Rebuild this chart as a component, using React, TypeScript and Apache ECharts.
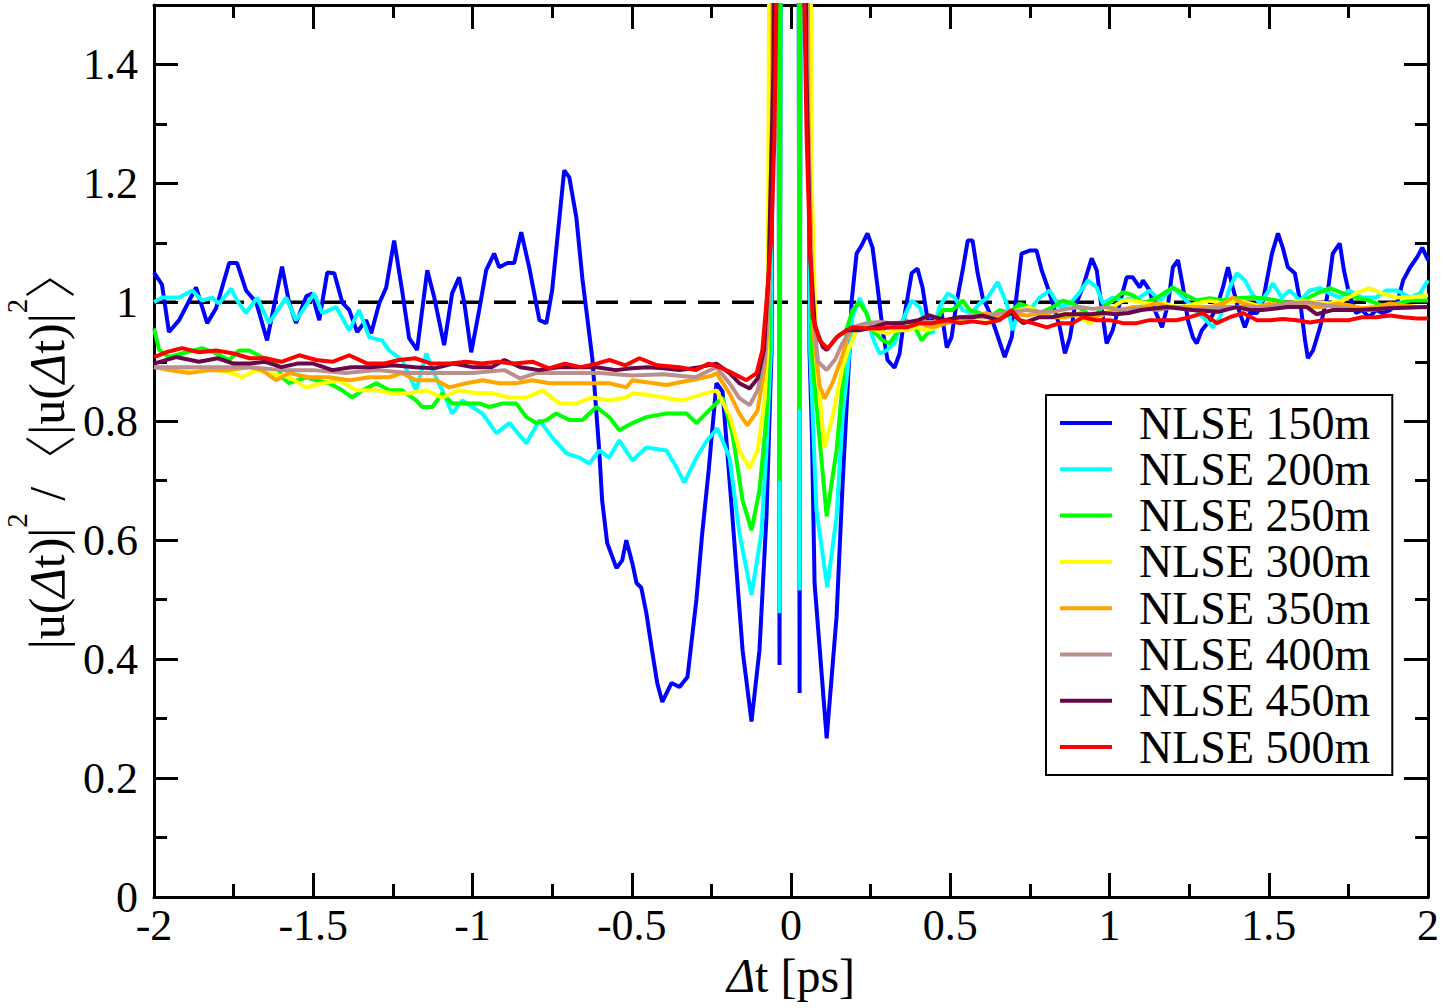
import React, { useEffect, useRef } from "react";
import * as echarts from "echarts";

// ---------------- data ----------------
const seriesNames = [
  "NLSE 150m",
  "NLSE 200m",
  "NLSE 250m",
  "NLSE 300m",
  "NLSE 350m",
  "NLSE 400m",
  "NLSE 450m",
  "NLSE 500m",
];

const xRange = [-2, 2];
const yRange = [0, 1.5];
const xMajor = 0.5;
const xMinor = 0.25;
const yMajor = 0.2;
const yMinor = 0.1;
const referenceLevel = 1;

const xTitle = "{i|Δ}t [ps]";
const yTitle = "{m||u(}{i|Δ}{m|t)|}{s|2}{m| /}{b|〈}{m||u(}{i|Δ}{m|t)|}{s|2}{b|〉}";

const nlse150 = [
  [-2.0, 1.05], [-1.975, 1.03], [-1.953, 0.95], [-1.921, 0.97], [-1.868, 1.025], [-1.833, 0.965],
  [-1.805, 0.99], [-1.764, 1.066], [-1.739, 1.066], [-1.711, 1.02], [-1.679, 1.0], [-1.645, 0.936],
  [-1.617, 1.01], [-1.598, 1.06], [-1.576, 1.0], [-1.554, 0.965], [-1.522, 1.01], [-1.504, 1.015],
  [-1.481, 0.97], [-1.456, 1.05], [-1.434, 1.049], [-1.409, 1.0], [-1.387, 0.987], [-1.362, 0.95],
  [-1.334, 0.97], [-1.318, 0.948], [-1.293, 0.998], [-1.271, 1.025], [-1.246, 1.104], [-1.221, 1.02],
  [-1.199, 0.94], [-1.174, 0.92], [-1.142, 1.054], [-1.12, 1.008], [-1.089, 0.928], [-1.064, 1.015],
  [-1.042, 1.042], [-1.026, 1.0], [-1.004, 0.916], [-0.979, 0.987], [-0.957, 1.054], [-0.932, 1.082],
  [-0.916, 1.059], [-0.89, 1.066], [-0.869, 1.066], [-0.847, 1.118], [-0.822, 1.059], [-0.79, 0.97],
  [-0.768, 0.965], [-0.75, 1.02], [-0.712, 1.222], [-0.696, 1.21], [-0.674, 1.143], [-0.655, 1.04],
  [-0.624, 0.907], [-0.602, 0.75], [-0.593, 0.667], [-0.577, 0.595], [-0.548, 0.553], [-0.53, 0.566],
  [-0.517, 0.6], [-0.498, 0.561], [-0.485, 0.528], [-0.47, 0.52], [-0.454, 0.477], [-0.435, 0.41],
  [-0.42, 0.36], [-0.404, 0.328], [-0.375, 0.36], [-0.35, 0.353], [-0.325, 0.37], [-0.297, 0.5],
  [-0.279, 0.61], [-0.258, 0.72], [-0.234, 0.864], [-0.215, 0.85], [-0.184, 0.64], [-0.152, 0.415],
  [-0.124, 0.295], [-0.099, 0.415], [-0.077, 0.64], [-0.061, 0.92], [-0.052, 2.5], [-0.042, 2.5],
  [-0.036, 0.39], [-0.03, 2.5], [0, 5], [0.022, 2.5], [0.027, 0.343], [0.032, 2.5], [0.052, 2.5],
  [0.058, 0.92], [0.066, 0.77], [0.074, 0.528], [0.112, 0.267], [0.143, 0.471], [0.162, 0.695],
  [0.184, 0.92], [0.19, 1.0], [0.206, 1.082], [0.222, 1.096], [0.24, 1.116], [0.256, 1.092],
  [0.272, 1.025], [0.288, 0.953], [0.303, 0.903], [0.325, 0.89], [0.341, 0.914], [0.357, 0.98],
  [0.379, 1.049], [0.397, 1.057], [0.413, 1.025], [0.429, 0.97], [0.451, 0.97], [0.473, 0.982],
  [0.489, 0.924], [0.504, 0.941], [0.52, 1.0], [0.539, 1.054], [0.555, 1.104], [0.57, 1.104],
  [0.586, 1.049], [0.602, 1.008], [0.624, 0.982], [0.646, 0.948], [0.671, 0.908], [0.693, 0.941],
  [0.709, 1.015], [0.724, 1.082], [0.749, 1.087], [0.771, 1.087], [0.787, 1.054], [0.806, 1.025],
  [0.822, 0.998], [0.844, 0.958], [0.86, 0.914], [0.876, 0.941], [0.891, 0.992], [0.916, 1.025],
  [0.944, 1.074], [0.96, 1.054], [0.976, 0.987], [0.991, 0.931], [1.01, 0.953], [1.032, 0.998],
  [1.054, 1.042], [1.073, 1.042], [1.095, 1.025], [1.105, 1.037], [1.126, 1.02], [1.142, 0.987],
  [1.165, 0.958], [1.184, 0.998], [1.199, 1.059], [1.215, 1.071], [1.231, 1.025], [1.246, 0.97],
  [1.262, 0.941], [1.274, 0.931], [1.29, 0.953], [1.315, 0.97], [1.337, 0.992], [1.356, 1.025],
  [1.372, 1.059], [1.387, 1.025], [1.403, 0.992], [1.425, 0.958], [1.441, 0.982], [1.463, 0.982],
  [1.482, 1.003], [1.51, 1.082], [1.529, 1.116], [1.544, 1.092], [1.56, 1.059], [1.582, 1.049],
  [1.598, 1.003], [1.614, 0.936], [1.623, 0.906], [1.639, 0.919], [1.661, 0.958], [1.683, 1.008],
  [1.701, 1.082], [1.723, 1.099], [1.736, 1.054], [1.752, 1.015], [1.774, 0.982], [1.793, 0.987],
  [1.815, 0.975], [1.837, 0.987], [1.856, 0.982], [1.881, 0.987], [1.903, 0.998], [1.922, 1.037],
  [1.944, 1.059], [1.966, 1.076], [1.982, 1.092], [2.0, 1.071],
];

const nlse200 = [
  [-2.0, 1.0], [-1.975, 1.008], [-1.921, 1.008], [-1.88, 1.02], [-1.849, 1.003], [-1.818, 1.008],
  [-1.796, 0.998], [-1.758, 1.023], [-1.739, 1.003], [-1.711, 0.982], [-1.676, 1.008], [-1.639, 0.965],
  [-1.585, 1.008], [-1.554, 0.97], [-1.497, 1.015], [-1.472, 0.982], [-1.428, 0.992], [-1.387, 0.953],
  [-1.356, 0.987], [-1.324, 0.941], [-1.284, 0.936], [-1.262, 0.919], [-1.221, 0.903], [-1.177, 0.852],
  [-1.145, 0.914], [-1.126, 0.886], [-1.095, 0.852], [-1.064, 0.813], [-1.032, 0.835], [-1.001, 0.824],
  [-0.969, 0.813], [-0.925, 0.78], [-0.884, 0.797], [-0.831, 0.763], [-0.79, 0.802], [-0.75, 0.773],
  [-0.705, 0.746], [-0.665, 0.739], [-0.633, 0.729], [-0.602, 0.751], [-0.571, 0.739], [-0.539, 0.768],
  [-0.498, 0.734], [-0.454, 0.756], [-0.391, 0.751], [-0.36, 0.723], [-0.335, 0.697], [-0.297, 0.739],
  [-0.263, 0.768], [-0.231, 0.788], [-0.193, 0.739], [-0.162, 0.612], [-0.124, 0.508], [-0.093, 0.612],
  [-0.077, 0.751], [-0.063, 0.92], [-0.053, 2.5], [-0.042, 2.5], [-0.036, 0.477], [-0.03, 2.5],
  [0, 5], [0.022, 2.5], [0.027, 0.516], [0.032, 2.5], [0.05, 2.5], [0.06, 0.92], [0.08, 0.65],
  [0.114, 0.521], [0.143, 0.639], [0.162, 0.807], [0.184, 0.92], [0.193, 0.975], [0.215, 1.007],
  [0.237, 0.982], [0.256, 0.941], [0.278, 0.914], [0.3, 0.919], [0.325, 0.931], [0.35, 0.97],
  [0.379, 1.003], [0.404, 0.992], [0.429, 0.953], [0.445, 0.948], [0.466, 0.992], [0.492, 1.015],
  [0.514, 1.008], [0.539, 0.987], [0.567, 0.982], [0.592, 0.998], [0.617, 1.008], [0.649, 1.034],
  [0.677, 0.998], [0.696, 0.953], [0.718, 0.992], [0.749, 0.987], [0.781, 1.008], [0.812, 1.02],
  [0.844, 0.992], [0.876, 0.998], [0.907, 1.017], [0.932, 1.037], [0.96, 1.025], [0.979, 0.998],
  [1.01, 1.008], [1.042, 1.003], [1.073, 1.008], [1.095, 1.008], [1.126, 1.02], [1.158, 1.003],
  [1.199, 1.025], [1.231, 1.008], [1.262, 0.992], [1.293, 0.975], [1.325, 0.958], [1.347, 0.975],
  [1.378, 1.025], [1.4, 1.049], [1.425, 1.037], [1.447, 1.015], [1.472, 0.998], [1.494, 1.015],
  [1.513, 1.032], [1.541, 1.008], [1.566, 1.02], [1.598, 1.003], [1.629, 1.02], [1.661, 1.024],
  [1.692, 1.015], [1.723, 1.008], [1.752, 1.02], [1.793, 1.008], [1.837, 1.008], [1.869, 1.02],
  [1.903, 1.02], [1.944, 1.008], [1.975, 1.015], [2.0, 1.037],
];

const nlse250 = [
  [-2.0, 0.956], [-1.984, 0.92], [-1.953, 0.908], [-1.912, 0.914], [-1.849, 0.923], [-1.805, 0.914],
  [-1.764, 0.903], [-1.733, 0.919], [-1.701, 0.919], [-1.661, 0.908], [-1.617, 0.897], [-1.598, 0.874],
  [-1.576, 0.864], [-1.522, 0.874], [-1.491, 0.869], [-1.45, 0.864], [-1.409, 0.852], [-1.378, 0.84],
  [-1.346, 0.852], [-1.302, 0.864], [-1.262, 0.852], [-1.221, 0.852], [-1.177, 0.835], [-1.158, 0.824],
  [-1.126, 0.824], [-1.095, 0.847], [-1.064, 0.83], [-1.019, 0.83], [-0.979, 0.83], [-0.947, 0.824],
  [-0.906, 0.83], [-0.863, 0.83], [-0.831, 0.807], [-0.8, 0.797], [-0.768, 0.802], [-0.737, 0.813],
  [-0.696, 0.802], [-0.655, 0.802], [-0.611, 0.824], [-0.571, 0.807], [-0.539, 0.785], [-0.498, 0.797],
  [-0.454, 0.807], [-0.391, 0.813], [-0.328, 0.813], [-0.297, 0.797], [-0.258, 0.818], [-0.225, 0.835],
  [-0.215, 0.84], [-0.184, 0.78], [-0.152, 0.667], [-0.124, 0.617], [-0.099, 0.684], [-0.077, 0.807],
  [-0.068, 0.92], [-0.056, 2.5], [-0.042, 2.5], [-0.036, 0.7], [-0.03, 2.5], [0, 5], [0.022, 2.5],
  [0.027, 0.82], [0.032, 2.5], [0.05, 2.5], [0.064, 0.92], [0.112, 0.64], [0.143, 0.751],
  [0.162, 0.864], [0.174, 0.953], [0.193, 0.987], [0.215, 1.0], [0.237, 0.982], [0.256, 0.953],
  [0.288, 0.936], [0.309, 0.931], [0.332, 0.948], [0.363, 0.97], [0.394, 0.953], [0.41, 0.936],
  [0.429, 0.948], [0.457, 0.97], [0.476, 0.987], [0.507, 0.987], [0.539, 1.003], [0.561, 0.987],
  [0.592, 0.982], [0.624, 0.975], [0.655, 0.987], [0.686, 0.982], [0.718, 0.998], [0.749, 0.992],
  [0.781, 0.982], [0.822, 0.992], [0.853, 1.003], [0.885, 0.998], [0.916, 0.987], [0.948, 0.975],
  [0.979, 0.992], [1.01, 1.003], [1.042, 1.017], [1.073, 1.012], [1.105, 0.998], [1.149, 1.008],
  [1.199, 1.025], [1.231, 1.015], [1.274, 1.003], [1.315, 1.007], [1.356, 1.003], [1.4, 1.007],
  [1.441, 1.008], [1.482, 1.007], [1.526, 1.003], [1.566, 0.998], [1.607, 1.003], [1.651, 1.015],
  [1.692, 1.024], [1.733, 1.015], [1.774, 1.008], [1.815, 1.003], [1.856, 0.995], [1.903, 0.998],
  [1.944, 1.003], [2.0, 1.003],
];

const nlse300 = [
  [-2.0, 0.891], [-1.962, 0.891], [-1.912, 0.886], [-1.859, 0.891], [-1.805, 0.886], [-1.755, 0.881],
  [-1.723, 0.874], [-1.679, 0.886], [-1.639, 0.881], [-1.576, 0.874], [-1.522, 0.857], [-1.472, 0.864],
  [-1.419, 0.869], [-1.365, 0.852], [-1.302, 0.852], [-1.252, 0.847], [-1.199, 0.847], [-1.145, 0.852],
  [-1.095, 0.84], [-1.042, 0.852], [-0.988, 0.847], [-0.938, 0.847], [-0.884, 0.84], [-0.831, 0.84],
  [-0.781, 0.852], [-0.727, 0.83], [-0.674, 0.83], [-0.624, 0.84], [-0.571, 0.835], [-0.517, 0.84],
  [-0.498, 0.847], [-0.445, 0.844], [-0.391, 0.839], [-0.341, 0.835], [-0.288, 0.844], [-0.234, 0.852],
  [-0.193, 0.81], [-0.162, 0.751], [-0.13, 0.721], [-0.105, 0.751], [-0.083, 0.835], [-0.074, 0.92],
  [-0.06, 2.5], [0, 5], [0.055, 2.5], [0.065, 1.2], [0.08, 0.9], [0.105, 0.755], [0.13, 0.807],
  [0.162, 0.891], [0.178, 0.919], [0.193, 0.936], [0.206, 0.953], [0.237, 0.958], [0.269, 0.953],
  [0.3, 0.948], [0.332, 0.953], [0.363, 0.953], [0.394, 0.958], [0.426, 0.953], [0.457, 0.958],
  [0.489, 0.97], [0.52, 0.97], [0.551, 0.975], [0.592, 0.975], [0.633, 0.97], [0.677, 0.982],
  [0.718, 0.987], [0.749, 0.992], [0.781, 0.982], [0.822, 0.975], [0.866, 0.982], [0.907, 0.975],
  [0.938, 0.965], [0.969, 0.975], [1.01, 0.992], [1.042, 1.003], [1.073, 1.003], [1.117, 0.998],
  [1.168, 0.998], [1.221, 0.992], [1.274, 0.998], [1.315, 1.003], [1.356, 0.998], [1.4, 1.003],
  [1.441, 0.998], [1.482, 0.992], [1.526, 0.992], [1.566, 0.998], [1.607, 1.003], [1.651, 1.0],
  [1.692, 0.998], [1.733, 1.003], [1.774, 1.015], [1.815, 1.024], [1.856, 1.015], [1.903, 1.008],
  [1.944, 1.008], [2.0, 1.012],
];

const nlse350 = [
  [-2.0, 0.891], [-1.953, 0.886], [-1.89, 0.881], [-1.827, 0.886], [-1.764, 0.886], [-1.701, 0.891],
  [-1.661, 0.886], [-1.617, 0.869], [-1.576, 0.881], [-1.513, 0.874], [-1.45, 0.874], [-1.387, 0.869],
  [-1.324, 0.874], [-1.262, 0.874], [-1.221, 0.881], [-1.177, 0.869], [-1.114, 0.869], [-1.073, 0.857],
  [-1.019, 0.864], [-0.969, 0.869], [-0.916, 0.864], [-0.863, 0.864], [-0.812, 0.869], [-0.759, 0.864],
  [-0.696, 0.864], [-0.633, 0.864], [-0.571, 0.864], [-0.517, 0.857], [-0.498, 0.869], [-0.391, 0.861],
  [-0.288, 0.872], [-0.247, 0.877], [-0.234, 0.881], [-0.193, 0.847], [-0.162, 0.813], [-0.137, 0.793],
  [-0.105, 0.818], [-0.083, 0.891], [-0.074, 0.95], [-0.06, 1.3], [-0.05, 2.5], [0, 5], [0.045, 2.5],
  [0.055, 1.3], [0.07, 0.95], [0.09, 0.86], [0.105, 0.838], [0.13, 0.864], [0.162, 0.911],
  [0.174, 0.936], [0.193, 0.958], [0.237, 0.958], [0.278, 0.958], [0.319, 0.958], [0.363, 0.958],
  [0.404, 0.965], [0.445, 0.958], [0.489, 0.965], [0.529, 0.97], [0.57, 0.975], [0.614, 0.982],
  [0.655, 0.975], [0.696, 0.982], [0.74, 0.978], [0.781, 0.982], [0.822, 0.975], [0.866, 0.975],
  [0.907, 0.982], [0.948, 0.975], [0.991, 0.982], [1.032, 0.987], [1.073, 0.992], [1.105, 0.992],
  [1.149, 0.998], [1.19, 0.992], [1.231, 0.992], [1.274, 0.992], [1.315, 0.992], [1.356, 0.998],
  [1.387, 1.008], [1.419, 0.998], [1.463, 0.992], [1.504, 0.998], [1.544, 0.995], [1.588, 0.998],
  [1.629, 0.992], [1.67, 0.992], [1.714, 0.998], [1.752, 0.995], [1.793, 0.99], [1.837, 0.992],
  [1.881, 0.998], [1.922, 0.995], [1.966, 0.992], [2.0, 0.992],
];

const nlse400 = [
  [-2.0, 0.891], [-1.9, 0.891], [-1.8, 0.891], [-1.7, 0.891], [-1.6, 0.886], [-1.5, 0.886],
  [-1.4, 0.881], [-1.3, 0.886], [-1.2, 0.881], [-1.1, 0.881], [-1.0, 0.881], [-0.9, 0.886],
  [-0.85, 0.872], [-0.8, 0.881], [-0.7, 0.881], [-0.6, 0.881], [-0.5, 0.877], [-0.4, 0.879],
  [-0.3, 0.874], [-0.234, 0.891], [-0.193, 0.864], [-0.162, 0.839], [-0.13, 0.827], [-0.105, 0.852],
  [-0.083, 0.903], [-0.07, 1.0], [-0.055, 1.4], [-0.048, 2.5], [0, 5], [0.04, 2.5], [0.05, 1.4],
  [0.065, 1.0], [0.085, 0.9], [0.112, 0.886], [0.14, 0.905], [0.16, 0.93], [0.193, 0.958],
  [0.237, 0.965], [0.278, 0.967], [0.319, 0.965], [0.363, 0.967], [0.404, 0.967], [0.445, 0.967],
  [0.489, 0.967], [0.529, 0.975], [0.57, 0.977], [0.614, 0.975], [0.655, 0.982], [0.696, 0.984],
  [0.74, 0.987], [0.781, 0.984], [0.822, 0.984], [0.866, 0.989], [0.907, 0.992], [0.948, 0.989],
  [0.991, 0.992], [1.032, 0.987], [1.1, 0.99], [1.15, 0.987], [1.2, 0.992], [1.26, 0.987],
  [1.32, 0.99], [1.38, 0.992], [1.44, 0.992], [1.5, 0.992], [1.56, 0.998], [1.62, 1.0],
  [1.68, 0.995], [1.74, 0.99], [1.82, 0.987], [1.9, 0.992], [2.0, 0.992],
];

const nlse450 = [
  [-2.0, 0.897], [-1.931, 0.908], [-1.859, 0.9], [-1.8, 0.906], [-1.75, 0.897], [-1.7, 0.897],
  [-1.65, 0.9], [-1.6, 0.891], [-1.55, 0.897], [-1.5, 0.897], [-1.44, 0.886], [-1.38, 0.891],
  [-1.32, 0.891], [-1.25, 0.894], [-1.18, 0.891], [-1.12, 0.889], [-1.06, 0.897], [-1.0, 0.891],
  [-0.94, 0.891], [-0.9, 0.903], [-0.85, 0.891], [-0.79, 0.886], [-0.73, 0.891], [-0.67, 0.891],
  [-0.61, 0.891], [-0.55, 0.886], [-0.5, 0.889], [-0.45, 0.891], [-0.4, 0.889], [-0.35, 0.886],
  [-0.288, 0.891], [-0.234, 0.897], [-0.193, 0.881], [-0.162, 0.864], [-0.13, 0.855], [-0.105, 0.872],
  [-0.085, 0.92], [-0.07, 1.05], [-0.055, 1.4], [-0.047, 2.5], [0, 5], [0.04, 2.5], [0.048, 1.4],
  [0.06, 1.08], [0.075, 0.96], [0.1, 0.925], [0.112, 0.92], [0.143, 0.941], [0.174, 0.953],
  [0.215, 0.953], [0.256, 0.958], [0.3, 0.965], [0.35, 0.965], [0.4, 0.97], [0.435, 0.978],
  [0.48, 0.97], [0.53, 0.975], [0.57, 0.975], [0.6, 0.978], [0.65, 0.97], [0.69, 0.982],
  [0.73, 0.965], [0.78, 0.975], [0.82, 0.975], [0.86, 0.98], [0.9, 0.98], [0.94, 0.98],
  [0.98, 0.982], [1.02, 0.98], [1.06, 0.982], [1.1, 0.987], [1.18, 0.992], [1.26, 0.987],
  [1.34, 0.984], [1.4, 0.992], [1.44, 0.987], [1.48, 0.987], [1.56, 0.992], [1.62, 0.992],
  [1.65, 0.98], [1.7, 0.987], [1.78, 0.987], [1.88, 0.99], [2.0, 0.992],
];

const nlse500 = [
  [-2.0, 0.908], [-1.962, 0.916], [-1.912, 0.923], [-1.859, 0.916], [-1.805, 0.919], [-1.75, 0.914],
  [-1.7, 0.906], [-1.65, 0.906], [-1.6, 0.9], [-1.544, 0.911], [-1.49, 0.903], [-1.44, 0.9],
  [-1.387, 0.911], [-1.33, 0.897], [-1.28, 0.897], [-1.23, 0.903], [-1.18, 0.906], [-1.13, 0.897],
  [-1.07, 0.897], [-1.02, 0.9], [-0.97, 0.897], [-0.92, 0.9], [-0.87, 0.897], [-0.81, 0.9],
  [-0.76, 0.889], [-0.71, 0.897], [-0.66, 0.891], [-0.61, 0.897], [-0.57, 0.903], [-0.52, 0.894],
  [-0.476, 0.906], [-0.42, 0.894], [-0.35, 0.891], [-0.3, 0.886], [-0.258, 0.897], [-0.215, 0.889],
  [-0.184, 0.881], [-0.14, 0.869], [-0.108, 0.881], [-0.09, 0.919], [-0.077, 1.0], [-0.061, 1.113],
  [-0.052, 1.28], [-0.046, 1.5], [-0.04, 2.5], [0, 5], [0.036, 2.5], [0.042, 1.5], [0.049, 1.28],
  [0.058, 1.116], [0.068, 0.975], [0.09, 0.936], [0.115, 0.922], [0.143, 0.941], [0.152, 0.945],
  [0.193, 0.958], [0.237, 0.956], [0.278, 0.956], [0.319, 0.958], [0.363, 0.958], [0.404, 0.965],
  [0.445, 0.965], [0.489, 0.97], [0.529, 0.965], [0.57, 0.968], [0.614, 0.965], [0.655, 0.97],
  [0.693, 0.987], [0.718, 0.97], [0.759, 0.965], [0.803, 0.958], [0.844, 0.965], [0.885, 0.965],
  [0.916, 0.975], [0.96, 0.97], [1.001, 0.97], [1.042, 0.965], [1.085, 0.965], [1.126, 0.97],
  [1.168, 0.97], [1.21, 0.97], [1.252, 0.975], [1.293, 0.982], [1.337, 0.965], [1.378, 0.975],
  [1.419, 0.982], [1.463, 0.97], [1.504, 0.97], [1.544, 0.972], [1.588, 0.97], [1.629, 0.966],
  [1.67, 0.97], [1.714, 0.97], [1.752, 0.97], [1.793, 0.975], [1.837, 0.975], [1.881, 0.978],
  [1.922, 0.975], [1.966, 0.973], [2.0, 0.973],
];

const seriesData = [nlse150, nlse200, nlse250, nlse300, nlse350, nlse400, nlse450, nlse500];

// ---------------- styles ----------------
const seriesColors = ["#0000ff", "#00ffff", "#00ff00", "#ffff00", "#ffa500", "#bc8f8f", "#670748", "#ff0000"];
const FONT = '"Liberation Serif", "Times New Roman", Times, serif';
const CJK = '"Noto Sans CJK SC", "Noto Sans CJK JP", sans-serif';
const BLACK = "#000";

function makeXAxis(position: "bottom" | "top", major: boolean, withLabels: boolean) {
  return {
    type: "value",
    gridIndex: 0,
    position,
    min: xRange[0],
    max: xRange[1],
    interval: major ? xMajor : xMinor,
    axisLine: { show: major, onZero: false, lineStyle: { color: BLACK, width: 3 } },
    axisTick: { show: true, inside: true, length: major ? 24 : 13, lineStyle: { color: BLACK, width: 3 } },
    axisLabel: withLabels
      ? { show: true, fontFamily: FONT, fontSize: 44, color: BLACK, margin: 6 }
      : { show: false },
    splitLine: { show: false },
    minorTick: { show: false },
  };
}

function makeYAxis(position: "left" | "right", major: boolean, withLabels: boolean) {
  return {
    type: "value",
    gridIndex: 0,
    position,
    min: yRange[0],
    max: yRange[1],
    interval: major ? yMajor : yMinor,
    axisLine: { show: major, onZero: false, lineStyle: { color: BLACK, width: 3 } },
    axisTick: { show: true, inside: true, length: major ? 24 : 13, lineStyle: { color: BLACK, width: 3 } },
    axisLabel: withLabels
      ? { show: true, fontFamily: FONT, fontSize: 44, color: BLACK, margin: 16, showMaxLabel: false }
      : { show: false },
    splitLine: { show: false },
    minorTick: { show: false },
  };
}

export default function App() {
  const ref = useRef<HTMLDivElement>(null);

  useEffect(() => {
    if (!ref.current) return;
    const chart = echarts.init(ref.current, null, { renderer: "svg" });

    const xAxes: any[] = [
      {
        ...makeXAxis("bottom", true, true),
        name: xTitle,
        nameLocation: "middle",
        nameGap: 54,
        nameTextStyle: {
          fontFamily: FONT,
          fontSize: 48,
          color: BLACK,
          rich: { i: { fontFamily: FONT, fontSize: 48, fontStyle: "italic", color: BLACK } },
        },
      },
      makeXAxis("bottom", false, false),
      makeXAxis("top", true, false),
      makeXAxis("top", false, false),
    ];

    const yAxes: any[] = [
      makeYAxis("left", true, true),
      makeYAxis("left", false, false),
      makeYAxis("right", true, false),
      makeYAxis("right", false, false),
    ];

    const lineSeries = seriesNames.map((name, k) => ({
      name,
      type: "line",
      xAxisIndex: 0,
      yAxisIndex: 0,
      data: seriesData[k],
      showSymbol: false,
      symbol: "none",
      clip: true,
      color: seriesColors[k],
      lineStyle: { color: seriesColors[k], width: 4 },
      z: 3 + k * 0.01,
    }));

    const option: any = {
      animation: false,
      backgroundColor: "#fff",
      grid: { left: 154, right: 16, top: 5, bottom: 111, containLabel: false, outerBoundsMode: "none" },
      xAxis: xAxes,
      yAxis: yAxes,
      graphic: [
        {
          type: "text",
          x: 47,
          y: 448,
          rotation: Math.PI / 2,
          silent: true,
          style: {
            text: yTitle,
            align: "center",
            verticalAlign: "middle",
            fill: BLACK,
            font: `50px ${FONT}`,
            rich: {
              m: { fontFamily: FONT, fontSize: 50, fill: BLACK },
              i: { fontFamily: FONT, fontSize: 50, fontStyle: "italic", fill: BLACK },
              s: { fontFamily: FONT, fontSize: 29, fill: BLACK, padding: [0, 0, 60, 0] },
              b: { fontFamily: CJK, fontSize: 52, fontWeight: 300, fill: BLACK },
            },
          },
        },
      ],
      legend: {
        data: seriesNames,
        orient: "vertical",
        left: 1046,
        top: 395,
        padding: [5, 22, 5, 14],
        itemWidth: 52,
        itemHeight: 4,
        itemGap: 0.3,
        icon: "rect",
        backgroundColor: "#fff",
        borderColor: BLACK,
        borderWidth: 2,
        borderRadius: 0,
        textStyle: {
          fontFamily: FONT,
          fontSize: 46,
          color: BLACK,
          padding: [0, 0, 0, 22],
        },
      },
      series: [
        {
          name: "reference",
          type: "line",
          data: [
            [xRange[0], referenceLevel],
            [xRange[1], referenceLevel],
          ],
          showSymbol: false,
          symbol: "none",
          silent: true,
          lineStyle: { color: BLACK, width: 3.5, type: [22, 12] },
          z: 2,
        },
        ...lineSeries,
      ],
    };

    chart.setOption(option);
    return () => chart.dispose();
  }, []);

  return (
    <div
      ref={ref}
      style={{ position: "fixed", left: 0, top: 0, width: 1444, height: 1008, background: "#fff" }}
    />
  );
}
